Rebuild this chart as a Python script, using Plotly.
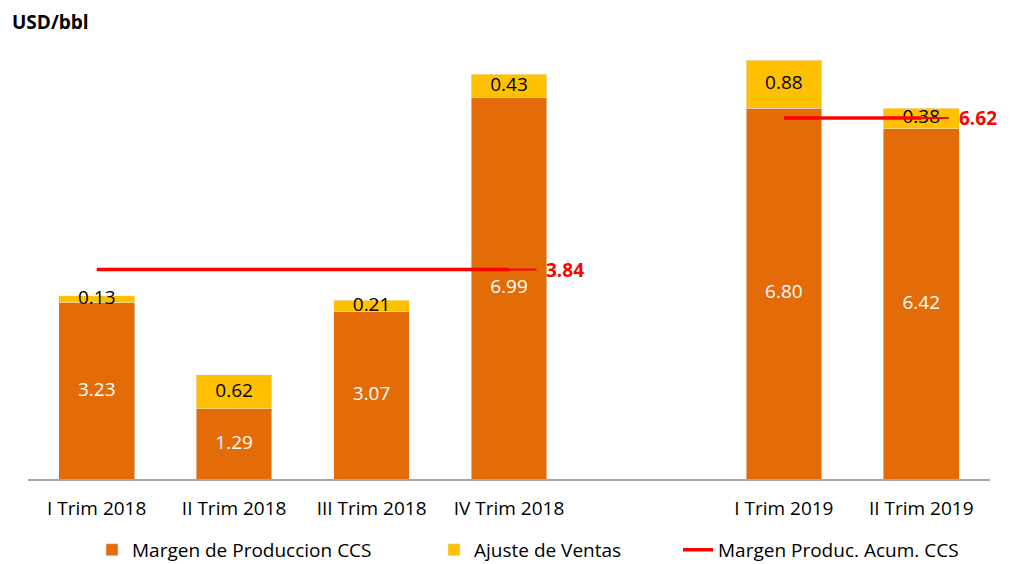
import plotly.graph_objects as go

categories = ["I Trim 2018", "II Trim 2018", "III Trim 2018", "IV Trim 2018", "", "I Trim 2019", "II Trim 2019"]
margen = [3.23, 1.29, 3.07, 6.99, None, 6.80, 6.42]
ajuste = [0.13, 0.62, 0.21, 0.43, None, 0.88, 0.38]
acum_2018 = 3.84
acum_2019 = 6.62
groups_2018 = [0, 1, 2, 3]
groups_2019 = [5, 6]

ORANGE = "#E36C09"
YELLOW = "#FFC000"
RED = "#FF0000"
FONT = "Open Sans"

xs = list(range(len(categories)))
fig = go.Figure()

fig.add_trace(go.Bar(x=xs, y=margen, name="Margen de Produccion CCS", marker_color=ORANGE,
                     width=0.55, hoverinfo="skip", legend="legend"))
fig.add_trace(go.Bar(x=xs, y=ajuste, name="Ajuste de Ventas", marker_color=YELLOW,
                     width=0.55, hoverinfo="skip", legend="legend2"))

# data labels
mx, my, mt = [], [], []
ax_, ay, at = [], [], []
for i, (m, a) in enumerate(zip(margen, ajuste)):
    if m is None:
        continue
    mx.append(i); my.append(m / 2); mt.append(f"{m:.2f}")
    ax_.append(i); ay.append(m + a / 2); at.append(f"{a:.2f}")
fig.add_trace(go.Scatter(x=mx, y=my, mode="text", text=mt, showlegend=False,
                         textfont=dict(color="white", size=19, family=FONT), hoverinfo="skip"))
fig.add_trace(go.Scatter(x=ax_, y=ay, mode="text", text=at, showlegend=False,
                         textfont=dict(color="black", size=19, family=FONT), hoverinfo="skip"))

# accumulated lines
for k, (grp, val) in enumerate([(groups_2018, acum_2018), (groups_2019, acum_2019)]):
    x0, x1 = grp[0], grp[-1]
    fig.add_trace(go.Scatter(x=[x0, x1], y=[val, val], mode="lines",
                             line=dict(color=RED, width=3.5), name="Margen Produc. Acum. CCS",
                             legend="legend3", showlegend=(k == 0), hoverinfo="skip"))
    fig.add_trace(go.Scatter(x=[x1, x1 + 0.2], y=[val, val], mode="lines",
                             line=dict(color=RED, width=2), showlegend=False, hoverinfo="skip"))
    fig.add_annotation(x=x1 + 0.2, y=val, xshift=8, text=f"<b>{val:.2f}</b>", showarrow=False,
                       xanchor="left", yanchor="middle",
                       font=dict(color=RED, size=19, family=FONT))

leg_common = dict(orientation="h", xref="container", yref="container", y=0.025,
                  yanchor="middle", xanchor="left", font=dict(size=19, color="black"),
                  bgcolor="rgba(0,0,0,0)")
fig.update_layout(
    width=1018, height=564,
    barmode="stack",
    plot_bgcolor="white", paper_bgcolor="white",
    margin=dict(l=28, r=28, t=40, b=85, autoexpand=False),
    font=dict(family=FONT, size=18, color="black"),
    xaxis=dict(range=[-0.5, 6.5], tickmode="array", tickvals=xs, ticktext=categories,
               showgrid=False, showline=True, linecolor="#A6A6A6", linewidth=1.5,
               ticks="", ticklabelstandoff=11, automargin=False,
               tickfont=dict(size=19, color="black"), fixedrange=True),
    yaxis=dict(range=[0, 8.05], visible=False, showgrid=False, zeroline=False, automargin=False),
    legend=dict(x=92 / 1018, **leg_common),
    legend2=dict(x=434 / 1018, **leg_common),
    legend3=dict(x=678 / 1018, **leg_common),
    showlegend=True,
)
fig.add_annotation(x=0, y=1, xref="paper", yref="paper", xshift=-18, yshift=18,
                   text="<b>USD/bbl</b>", showarrow=False, xanchor="left", yanchor="middle",
                   font=dict(size=19, color="black", family=FONT))

fig.write_html("out.html", config={"displayModeBar": False},
               post_script="document.body.style.margin='0';")
